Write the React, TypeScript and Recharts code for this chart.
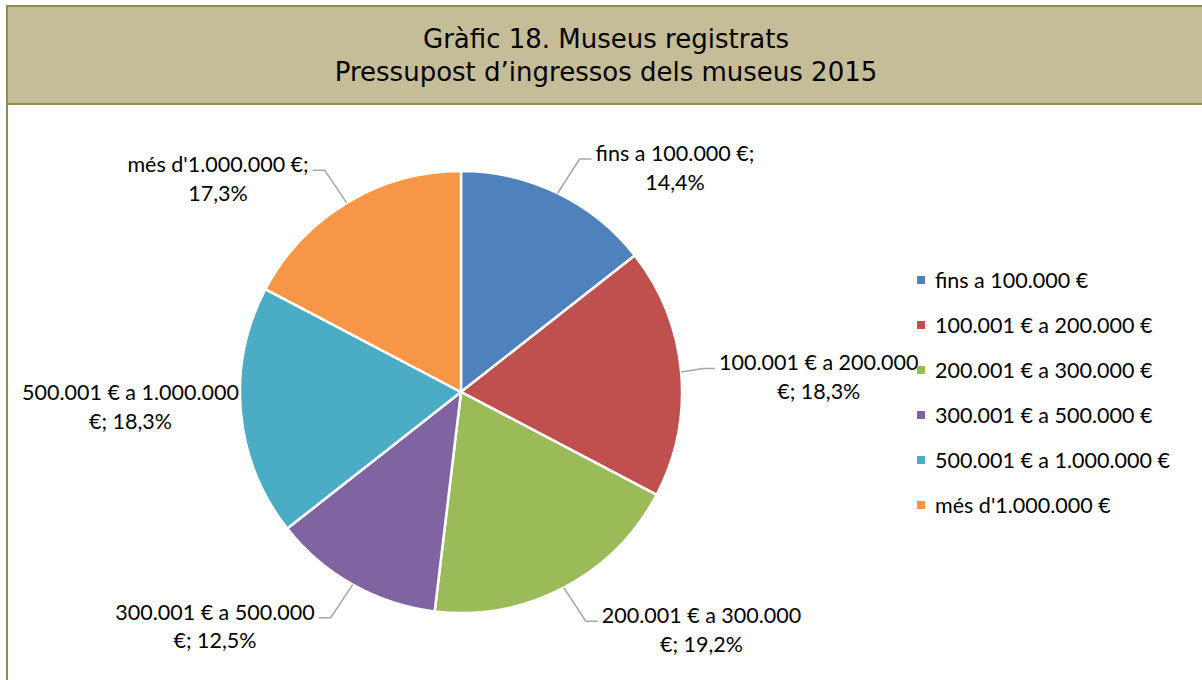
import React from 'react';
import { PieChart, Pie, Cell, Legend } from 'recharts';

const titleLines = ['Gràfic 18. Museus registrats', 'Pressupost d’ingressos dels museus 2015'];
const categories = [
  'fins a 100.000 €',
  '100.001 € a 200.000 €',
  '200.001 € a 300.000 €',
  '300.001 € a 500.000 €',
  '500.001 € a 1.000.000 €',
  "més d'1.000.000 €",
];
const shares = [14.4, 18.3, 19.2, 12.5, 18.3, 17.3];
const colors = ['#4F81BD', '#C0504D', '#9BBB59', '#8064A2', '#4BACC6', '#F79646'];

const data = categories.map((name, i) => ({ name, value: shares[i] }));

const FONT = 'Lato, "Open Sans", sans-serif';
const FS = 21.5;
const LINE = 28.5;
const RAD = Math.PI / 180;
const PLOT_LEFT = 22;

let canvasEl: HTMLCanvasElement | null = null;
function measure(t: string): number {
  if (!canvasEl) canvasEl = document.createElement('canvas');
  const ctx = canvasEl.getContext('2d');
  if (!ctx) return t.length * FS * 0.5;
  ctx.font = `${FS}px Lato`;
  return ctx.measureText(t).width;
}

function wrap(text: string, maxChars: number): string[] {
  const words = text.split(' ');
  const lines: string[] = [];
  let cur = '';
  for (const w of words) {
    const next = cur ? cur + ' ' + w : w;
    if (next.length > maxChars && cur) {
      lines.push(cur);
      cur = w;
    } else {
      cur = next;
    }
  }
  if (cur) lines.push(cur);
  return lines;
}

const fmtPct = (v: number) => v.toFixed(1).replace('.', ',') + '%';

const renderLabel = (props: any) => {
  const { cx, cy, midAngle, outerRadius, index, value, name } = props;
  const cos = Math.cos(midAngle * RAD);
  const sin = Math.sin(midAngle * RAD);
  const right = cos >= 0;
  const x0 = cx + outerRadius * cos;
  const y0 = cy - outerRadius * sin;
  const x1 = x0 + (right ? 22 : -22);
  const y1 = y0 - 38 * sin;
  const x2 = x1 + (right ? 12 : -12);
  const lines = wrap(`${name}; ${fmtPct(value)}`, 21);
  const w = Math.max(...lines.map(measure));
  let bc = right ? x2 + 4 + w / 2 : x2 - 4 - w / 2;
  let firstY = y1 - 6;
  let showLine = true;
  if (!right && bc - w / 2 < PLOT_LEFT) {
    // no room outside: place the label against the pie edge without a leader
    bc = PLOT_LEFT + w / 2;
    firstY = y0 - 20;
    showLine = false;
  }
  return (
    <g key={`lbl-${index}`}>
      {showLine && (
        <polyline
          points={`${x0},${y0} ${x1},${y1} ${x2},${y1}`}
          fill="none"
          stroke="#A6A6A6"
          strokeWidth={1.5}
        />
      )}
      <text textAnchor="middle" fontFamily={FONT} fontSize={FS} fill="#000">
        {lines.map((l, i) => (
          <tspan key={i} x={bc} y={firstY + i * LINE} dominantBaseline="central">
            {l}
          </tspan>
        ))}
      </text>
    </g>
  );
};

const renderLegend = () => (
  <div style={{ fontFamily: FONT, fontSize: FS, color: '#000' }}>
    {categories.map((c, i) => (
      <div key={c} style={{ height: 45, display: 'flex', alignItems: 'center', whiteSpace: 'nowrap' }}>
        <span style={{ display: 'inline-block', width: 8, height: 8, background: colors[i], marginRight: 10 }} />
        <span>{c}</span>
      </div>
    ))}
  </div>
);

export default function App() {
  const border = '#948A54';
  return (
    <div style={{ position: 'absolute', left: 0, top: 0, width: 1202, height: 680, background: '#fff', overflow: 'hidden' }}>
      <div style={{ position: 'absolute', left: 6, top: 5, width: 2, height: 680, background: border }} />
      <div
        style={{
          position: 'absolute',
          left: 6,
          top: 5,
          width: 1220,
          height: 96,
          background: '#C4BD97',
          borderTop: `2px solid ${border}`,
          borderLeft: `2px solid ${border}`,
          borderBottom: `2px solid ${border}`,
        }}
      />
      <div
        style={{
          position: 'absolute',
          left: 8,
          top: 23,
          width: 1196,
          textAlign: 'center',
          fontFamily: '"DejaVu Sans", Verdana, sans-serif',
          fontSize: 26,
          lineHeight: '33px',
          color: '#000',
        }}
      >
        {titleLines.map((t) => (
          <div key={t}>{t}</div>
        ))}
      </div>
      <div style={{ position: 'absolute', left: 0, top: 0 }}>
        <PieChart width={1202} height={680} margin={{ top: 0, right: 0, bottom: 0, left: 0 }}>
          <Pie
            data={data}
            dataKey="value"
            nameKey="name"
            cx={461}
            cy={392}
            outerRadius={221}
            startAngle={90}
            endAngle={-270}
            stroke="#fff"
            strokeWidth={2.5}
            label={renderLabel}
            labelLine={false}
            isAnimationActive={false}
          >
            {data.map((d, i) => (
              <Cell key={d.name} fill={colors[i]} />
            ))}
          </Pie>
          <Legend
            layout="vertical"
            content={renderLegend}
            wrapperStyle={{ left: 917, top: 257, width: 280, right: 'auto', bottom: 'auto' }}
          />
        </PieChart>
      </div>
    </div>
  );
}
